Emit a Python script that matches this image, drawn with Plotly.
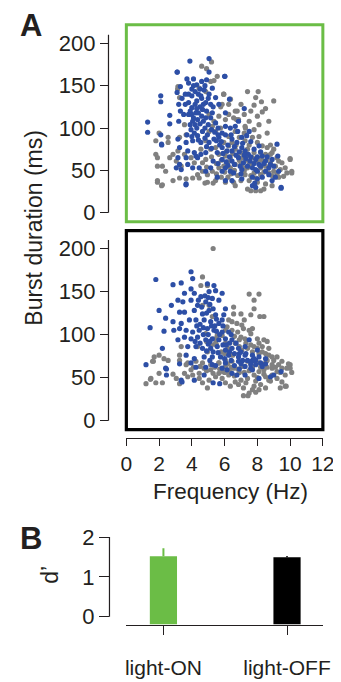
import plotly.graph_objects as go

# ---------------- DATA ----------------
# Panel A (top, light-ON): (frequency Hz, burst duration ms)
on_blue = [
    (3.1,166),(5.05,166),(3.7,158),(4.1,158),(4.9,157),(6.0,161),(3.3,149),(3.8,153),(4.3,151),(4.6,155),
    (5.25,147),(3.8,140),(3.1,142),(4.2,143),(4.75,145),(5.05,140),(5.45,136),(4.55,138),(2.1,138),(2.1,131),
    (3.2,128),(3.8,130),(4.0,124),(4.3,132),(4.85,130),(5.15,128),(5.65,128),(6.3,134),(3.3,120),(3.5,116),
    (3.8,116),(4.25,118),(4.65,122),(5.25,118),(2.65,115),(2.65,105),(3.2,108),(4.05,108),(4.35,110),(4.85,112),
    (5.15,112),(5.45,106),(6.05,118),(1.3,107),(1.3,95),(2.1,92),(2.15,81),(3.95,98),(4.15,94),(4.35,91),
    (4.65,96),(4.95,92),(4.55,83),(4.05,85),(3.65,83),(3.15,87),(3.25,77),(3.75,73),(4.15,71),(4.35,65),
    (5.05,83),(5.35,87),(5.65,89),(5.85,94),(6.05,102),(6.05,92),(6.35,100),(6.65,102),(7.2,123),(6.85,108),
    (6.45,87),(6.75,83),(7.05,89),(7.35,91),(7.5,96),(5.85,77),(6.15,73),(6.45,73),(7.05,77),(7.25,73),
    (7.45,69),(7.8,75),(8.1,79),(5.55,71),(5.3,61),(5.85,63),(6.05,53),(6.45,61),(6.85,65),(6.95,55),
    (7.15,59),(7.55,61),(7.9,63),(8.3,67),(8.1,57),(8.5,61),(8.7,53),(9.2,81),(9.25,67),(8.9,63),
    (7.7,53),(8.0,49),(8.5,49),(7.05,51),(6.55,47),(6.35,49),(5.85,49),(5.55,42),(6.05,38),(5.15,53),
    (4.85,49),(4.45,53),(4.05,53),(3.75,57),(3.65,65),(3.25,57),(3.15,65),(3.05,53),(3.35,51),(7.7,42),
    (8.0,40),(8.3,42),(8.7,45),(9.1,42),(9.3,49),(8.9,38),(7.7,32),(7.9,30),(9.45,30),(7.05,40),
    (6.45,38),(3.65,34),(4.25,67),(4.55,69),(4.85,71),(3.88,179),(5.05,182),(3.11,166),(6.02,161),(2.16,80),
    (4.4,140),(4.6,135),(4.0,138),(4.2,128),(4.5,125),(4.7,128),(4.9,120),(4.4,118),(3.9,120),(4.1,112),
    (4.5,105),(4.7,108),(4.3,100),(4.8,100),(5.0,104),(5.2,98),(5.4,95),(5.6,100),(3.6,128),(3.4,135),
    (4.0,146),(4.8,150),(5.0,135),(5.3,125),(3.9,104),(4.2,104),(3.7,92),(4.0,90),(5.5,85),(5.7,80),
    (6.2,80),(6.6,78),(6.9,72),(7.2,68),(7.6,66),(7.8,58),(8.2,55),(8.4,58),(8.0,66),(6.7,68),
    (6.3,66),(6.1,60),(6.6,57),(7.4,55),(7.9,51),(8.8,57),(9.0,55),(5.9,70),(5.2,76),(4.9,78),
    (5.6,92),(6.8,96),(7.1,82),(7.6,84),(8.2,72),(7.84,35),(9.45,29),(3.64,33),
    (4.1,150),(4.5,146),(3.6,140),(4.3,123),(4.6,114),(4.0,116),(4.8,88),(4.4,86),(5.8,84),(6.4,92),
    (7.3,64),(8.6,66),(7.0,46),(6.2,56),(5.6,58),
]
on_gray = [
    (4.6,173),(5.2,178),(4.9,170),(3.13,146),(5.35,156),(5.94,140),(6.36,134),(5.76,125),(6.77,120),(6.73,110),
    (7.27,100),(7.4,143),(8.05,143),(7.9,136),(8.25,131),(9.0,132),(8.5,123),(8.3,119),(7.8,127),(6.65,120),
    (6.85,110),(6.25,116),(5.85,128),(5.95,140),(6.55,112),(7.2,116),(7.5,108),(7.25,102),(7.8,98),(8.1,90),
    (8.6,94),(7.7,89),(7.25,85),(8.0,83),(8.3,79),(8.6,77),(8.9,71),(9.2,65),(9.5,59),(9.7,53),
    (10.0,63),(10.1,49),(9.8,47),(9.4,51),(9.1,55),(8.8,59),(8.5,55),(8.2,53),(8.0,61),(7.7,65),
    (7.4,67),(7.0,71),(6.65,75),(6.25,79),(5.95,83),(5.75,100),(5.45,96),(5.25,102),(5.05,96),(4.85,85),
    (4.55,75),(5.15,75),(5.45,77),(5.65,69),(6.05,67),(6.35,65),(6.65,57),(6.35,53),(5.95,55),(5.65,53),
    (5.25,49),(4.95,45),(4.65,49),(4.35,45),(4.05,41),(3.65,40),(3.25,41),(2.85,38),(3.35,55),(3.05,61),
    (2.85,69),(2.55,83),(2.55,89),(2.0,94),(1.8,85),(1.8,69),(1.9,55),(2.2,55),(2.4,49),(1.9,38),
    (2.15,32),(3.15,73),(3.55,69),(3.95,65),(4.15,59),(4.65,59),(4.85,63),(4.45,41),(4.95,36),(5.45,38),
    (6.05,36),(6.55,36),(7.25,45),(7.0,38),(7.5,38),(8.0,36),(8.5,34),(7.9,26),(8.4,28),(8.9,32),
    (9.3,42),(9.6,43),(7.4,53),(7.0,59),(7.5,57),(7.8,47),(8.2,45),(8.7,47),(9.0,49),(9.3,61),
    (9.0,75),(8.8,69),(8.5,69),(8.2,71),(7.8,71),(7.4,75),(7.1,65),(6.8,67),(6.45,83),(6.9,89),
    (7.2,94),(6.65,96),(6.25,90),(6.05,110),(5.65,114),(5.35,108),(5.05,116),(6.25,128),(4.85,143),(4.45,147),
    (5.55,161),(5.15,155),(3.25,136),(3.15,149),(2.65,65),(3.25,89),(3.65,92),(3.55,104),(7.0,128),(7.6,120),
    (8.0,114),(8.7,108),(8.1,104),(7.4,28),(6.65,32),(7.6,26),(8.2,26),(1.9,65),(10.1,47),(10.0,64),
    (5.3,35),(4.8,35),(2.2,33),(1.9,36),
    (6.1,72),(6.5,70),(6.9,62),(7.3,62),(7.7,58),(8.1,64),(8.6,64),(6.2,60),(5.8,62),(5.5,58),
    (6.0,48),(6.6,50),(7.2,50),(7.6,44),(8.4,48),(6.8,44),(5.2,66),(4.9,54),(5.5,46),(6.2,42),
    (8.9,44),(9.2,46),(7.9,41),(6.4,46),(5.8,42),(7.1,54),(8.3,62),(6.7,80),(7.5,80),(8.8,80),
]

# Panel A (bottom, light-OFF)
off_blue = [
    (3.95,173),(1.8,164),(2.85,158),(3.35,160),(3.95,153),(4.05,165),(4.95,159),(5.35,157),(3.55,148),(4.15,148),
    (4.55,144),(5.05,150),(5.45,151),(5.85,148),(3.15,140),(3.45,138),(3.95,140),(4.35,134),(4.85,138),(5.25,142),
    (5.65,140),(2.75,134),(2.0,128),(3.25,126),(3.55,126),(4.15,128),(4.65,124),(5.05,128),(5.45,123),(5.95,123),
    (6.05,130),(2.4,119),(2.85,115),(3.35,113),(3.85,117),(4.25,117),(4.75,117),(5.15,115),(5.65,113),(5.85,117),
    (1.45,108),(2.3,104),(2.9,105),(3.25,107),(3.65,105),(4.05,103),(4.45,105),(4.95,107),(5.35,105),(5.85,103),
    (6.25,103),(3.15,94),(3.55,97),(3.95,95),(4.35,97),(4.85,94),(5.25,95),(5.65,94),(6.05,95),(6.45,94),
    (2.2,84),(3.75,86),(4.25,86),(4.65,84),(5.15,84),(5.55,86),(6.05,82),(6.45,84),(6.85,84),(7.25,86),
    (7.5,94),(7.25,76),(6.85,74),(6.25,76),(5.75,74),(5.25,74),(4.75,74),(4.15,72),(3.65,76),(7.7,76),
    (8.1,74),(8.0,82),(8.5,72),(1.2,65),(2.4,61),(2.45,60),(2.45,53),(3.25,66),(3.95,67),(4.25,62),
    (3.35,47),(4.15,47),(4.85,62),(5.25,65),(5.45,64),(5.85,61),(6.05,67),(6.85,69),(7.25,63),(7.6,61),
    (7.9,65),(8.2,67),(6.75,53),(6.45,55),(7.25,53),(7.7,59),(8.1,49),(8.8,51),(9.0,53),(9.45,57),
    (8.5,66),(5.3,44),(5.7,43),(6.15,59),(4.75,53),(3.4,45),
    (4.5,112),(4.7,108),(5.0,100),(5.2,110),(4.9,125),(5.1,135),(4.6,132),(4.4,140),(4.8,145),(5.0,143),
    (5.3,130),(5.5,118),(5.4,110),(5.7,100),(5.9,88),(6.1,88),(6.3,80),(6.6,78),(6.9,78),(7.1,70),
    (7.4,70),(7.7,70),(7.9,70),(7.6,66),(6.4,70),(6.0,72),(5.6,79),(5.3,80),(5.0,89),(4.9,81),
    (4.5,90),(4.2,92),(7.0,66),(6.6,64),(8.3,63),(7.3,78),(6.7,90),(6.4,100),
    (4.7,100),(5.1,92),(5.5,104),(4.3,110),(5.9,110),(6.3,90),(7.0,80),(7.8,72),(6.9,60),(5.1,70),
]
off_gray = [
    (5.3,200),(4.65,167),(4.95,157),(4.55,157),(7.5,147),(8.1,147),(7.8,140),(7.8,130),(7.6,123),(8.15,121),
    (8.4,121),(7.2,117),(6.55,132),(6.55,124),(7.0,124),(6.25,117),(6.45,115),(6.75,113),(7.05,111),(7.15,107),
    (7.5,105),(7.7,107),(7.6,101),(8.0,95),(8.4,94),(8.6,92),(8.7,84),(8.3,86),(8.1,90),(7.8,86),
    (7.25,95),(7.0,97),(6.8,103),(6.45,105),(6.15,109),(6.05,105),(5.85,99),(5.55,99),(3.35,86),(3.25,76),
    (1.7,74),(2.0,76),(1.6,69),(2.3,72),(2.55,70),(4.65,134),(5.05,134),(5.25,121),(4.85,101),(5.45,90),
    (6.05,90),(6.65,90),(7.05,82),(7.7,80),(8.1,78),(8.5,78),(8.9,74),(9.5,69),(10.0,65),(9.8,61),
    (9.3,65),(8.9,65),(8.5,67),(8.1,67),(7.8,70),(7.4,69),(7.0,67),(6.45,69),(6.05,70),(5.65,67),
    (5.15,65),(4.65,67),(4.25,69),(3.75,67),(3.25,70),(4.35,86),(4.95,80),(1.2,43),(1.5,49),(1.8,44),
    (2.0,55),(2.85,54),(3.25,43),(3.05,49),(3.55,55),(3.75,51),(4.05,53),(4.45,49),(4.65,44),(4.95,38),
    (4.45,55),(5.05,47),(5.45,51),(5.85,49),(6.05,44),(6.35,40),(6.65,45),(6.85,42),(7.15,38),(7.15,29),
    (7.5,32),(7.9,33),(7.8,40),(8.2,42),(8.5,38),(8.7,47),(9.2,49),(9.5,45),(9.7,53),(10.0,61),
    (9.9,66),(9.5,61),(9.2,57),(8.9,61),(8.4,59),(8.1,57),(7.8,53),(7.4,49),(7.0,47),(6.25,53),
    (5.65,55),(5.15,59),(4.75,61),(3.95,59),(3.65,65),(1.65,69),(7.6,65),(7.05,63),(6.55,61),(6.05,63),
    (5.65,67),(8.5,51),(8.9,53),(9.7,40),(9.76,40),(7.43,29),(1.47,48),(2.2,44),
    (5.5,88),(5.8,80),(6.2,84),(6.0,78),(5.4,95),(5.2,88),(4.9,92),(6.6,98),(6.9,94),(7.3,90),
    (7.6,88),(8.0,84),(8.3,80),(8.7,76),(9.0,70),(9.2,74),(6.8,60),(7.2,56),(7.7,62),(8.2,62),
    (8.6,62),(9.1,62),(6.3,57),(5.9,57),(5.3,55),(4.9,58),(4.5,63),(4.1,62),(10.1,56),(9.4,38),
    (6.4,62),(6.9,56),(7.5,58),(8.0,50),(8.4,54),(6.6,52),(7.3,44),(5.7,60),(6.2,66),(7.9,46),
    (6.9,86),(7.4,84),(8.6,70),(9.4,56),(8.8,46),(6.0,56),(5.4,62),(7.7,36),(8.1,36),(6.5,76),
]

freq_ticks = [0, 2, 4, 6, 8, 10, 12]
dur_ticks = [0, 50, 100, 150, 200]

# Panel B
conditions = ["light-ON", "light-OFF"]
d_prime = [1.52, 1.49]
d_prime_err = [0.20, 0.03]
d_ticks = [0, 1, 2]

# ---------------- STYLE ----------------
# measured mapping from figure pixels to photographed pixels
AX, BX, AY, BY = 0.955, 11.8, 0.986, 14.3
W, H = 345, 684
FONT = "Liberation Sans, Arial, Helvetica, sans-serif"
BLUE = "#2D4FA6"
GRAY = "#808080"
GREEN = "#6BBD46"
INK = "#231F20"


def fx(t):
    return ((t - BX) / AX) / W


def fy(t):
    return 1 - ((t - BY) / AY) / H


def xs(pts):
    return [p[0] for p in pts]


def ys(pts):
    return [p[1] for p in pts]


fig = go.Figure()
mk = dict(size=5.2, line=dict(width=0))
for pts, col, xa, ya in [
    (on_gray, GRAY, "x", "y"), (on_blue, BLUE, "x", "y"),
    (off_gray, GRAY, "x2", "y2"), (off_blue, BLUE, "x2", "y2"),
]:
    fig.add_trace(go.Scatter(x=xs(pts), y=ys(pts), mode="markers",
                             marker=dict(color=col, **mk), xaxis=xa, yaxis=ya,
                             hoverinfo="skip"))

B_MIN = -0.2
fig.add_trace(go.Bar(
    x=[0, 1], y=[v - B_MIN for v in d_prime], base=B_MIN, width=0.22,
    marker=dict(color=[GREEN, "black"], line=dict(width=0)),
    xaxis="x3", yaxis="y3", hoverinfo="skip"))
for i, (v, e, c) in enumerate(zip(d_prime, d_prime_err, [GREEN, "black"])):
    fig.add_trace(go.Scatter(x=[i], y=[v], mode="markers",
                             marker=dict(size=1, color=c, opacity=0),
                             error_y=dict(type="data", array=[e], arrayminus=[0],
                                          color=c, thickness=2, width=0),
                             xaxis="x3", yaxis="y3", hoverinfo="skip"))

XD = [fx(125), fx(323)]
tickfont = dict(family=FONT, size=22, color=INK)
common_y = dict(anchor="free", position=fx(107), ticks="outside", ticklen=8.5,
                tickwidth=1.2, tickcolor=INK, showline=False, showgrid=False,
                zeroline=False, tickfont=tickfont, fixedrange=True)

fig.update_layout(
    width=W, height=H, margin=dict(l=0, r=0, t=0, b=0),
    paper_bgcolor="white", plot_bgcolor="white", showlegend=False,
    font=dict(family=FONT, color=INK),
    xaxis=dict(domain=XD, range=[0, 12], anchor="y", visible=False),
    yaxis=dict(domain=[fy(221), fy(23)], range=[-10.5, 222], tickvals=dur_ticks, **common_y),
    xaxis2=dict(domain=XD, range=[0, 12], anchor="free", position=fy(438),
                tickvals=freq_ticks, ticks="outside", ticklen=7.5, tickwidth=1.2,
                tickcolor=INK, showline=True, linecolor=INK, linewidth=1.2,
                showgrid=False, zeroline=False,
                tickfont=dict(family=FONT, size=21, color=INK)),
    yaxis2=dict(domain=[fy(430), fy(230)], range=[-10.4, 220.8], tickvals=dur_ticks, **common_y),
    xaxis3=dict(domain=XD, range=[-0.3, 1.29], anchor="y3", tickvals=[0, 1],
                ticktext=conditions, ticks="outside", ticklen=9.5, tickwidth=1.2,
                tickcolor=INK, showline=True, linecolor=INK, linewidth=1.2,
                showgrid=False, zeroline=False,
                tickfont=dict(family=FONT, size=21, color=INK), ticklabelstandoff=15),
    yaxis3=dict(domain=[fy(626), fy(534)], range=[B_MIN, 2.1], tickvals=d_ticks,
                **{**common_y, "position": fx(108), "ticklen": 10.5}),
)

shapes = [
    dict(type="rect", xref="x domain", yref="y domain", x0=0, x1=1, y0=0, y1=1,
         line=dict(color=GREEN, width=3)),
    dict(type="rect", xref="x2 domain", yref="y2 domain", x0=0, x1=1, y0=0, y1=1,
         line=dict(color="black", width=3.2)),
    dict(type="line", xref="paper", yref="y", x0=fx(107), x1=fx(107), y0=0, y1=210,
         line=dict(color=INK, width=1.2)),
    dict(type="line", xref="paper", yref="y2", x0=fx(107), x1=fx(107), y0=0, y1=210,
         line=dict(color=INK, width=1.2)),
    dict(type="line", xref="paper", yref="y3", x0=fx(108), x1=fx(108), y0=0, y1=2,
         line=dict(color=INK, width=1.2)),
]
fig.update_layout(shapes=shapes)

ann = [
    dict(text="<b>A</b>", x=fx(16), y=fy(24), xanchor="left", yanchor="middle",
         font=dict(size=31, family=FONT, color=INK)),
    dict(text="<b>B</b>", x=fx(16), y=fy(539), xanchor="left", yanchor="middle",
         font=dict(size=31, family=FONT, color=INK)),
    dict(text="Burst duration (ms)", x=fx(32), y=fy(227), textangle=-90,
         xanchor="center", yanchor="middle", font=dict(size=23, family=FONT, color=INK)),
    dict(text="Frequency (Hz)", x=fx(230), y=fy(492), xanchor="center", yanchor="middle",
         font=dict(size=22.5, family=FONT, color=INK)),
    dict(text="d’", x=fx(48), y=fy(576), textangle=-90, xanchor="center", yanchor="middle",
         font=dict(size=23, family=FONT, color=INK)),
]
for a in ann:
    a.update(xref="paper", yref="paper", showarrow=False)
fig.update_layout(annotations=ann)

fig.write_html("out.html")
